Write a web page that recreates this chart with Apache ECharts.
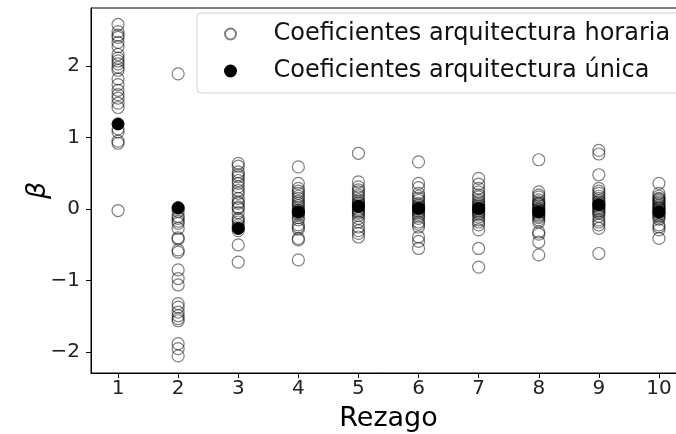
<!DOCTYPE html>
<html><head><meta charset="utf-8">
<script src="https://cdn.jsdelivr.net/npm/echarts@6/dist/echarts.min.js"></script>
<style>html,body{margin:0;padding:0;background:#fff}#c{width:676px;height:434px}</style>
</head><body><div id="c"></div>
<script>
const lags = [1,2,3,4,5,6,7,8,9,10];
const tickY = [-2,-1,0,1,2];
const horaria1 = [2.58,2.48,2.43,2.40,2.33,2.27,2.16,2.11,2.07,2.03,1.98,1.94,1.82,1.74,1.66,1.60,1.55,1.48,1.42,1.12,1.08,0.95,0.92,-0.02];
const horaria2 = [1.89,0.01,-0.10,-0.13,-0.17,-0.20,-0.27,-0.40,-0.42,-0.57,-0.60,-0.85,-0.97,-1.06,-1.32,-1.37,-1.44,-1.49,-1.53,-1.56,-1.88,-1.95,-2.05,-0.03];
const horaria3 = [0.64,0.60,0.52,0.48,0.40,0.36,0.31,0.22,0.15,0.08,0.03,0.01,-0.05,-0.13,-0.18,-0.22,-0.25,-0.30,-0.50,-0.74,0.10,0.45,-0.15,0.26];
const horaria4 = [0.59,0.36,0.29,0.22,0.15,0.08,0.02,-0.01,-0.04,-0.08,-0.12,-0.22,-0.28,-0.41,-0.43,-0.71,0.18,0.05,-0.06,0.25,-0.15,-0.02,0.11,-0.25];
const horaria5 = [0.78,0.38,0.31,0.24,0.17,0.10,0.06,0.03,-0.04,-0.09,-0.18,-0.25,-0.34,-0.39,0.20,0.13,0.00,-0.02,0.08,-0.13,0.27,-0.30,0.04,-0.06];
const horaria6 = [0.66,0.36,0.22,0.15,0.08,0.04,0.01,-0.04,-0.10,-0.18,-0.25,-0.39,-0.45,-0.55,0.18,0.12,0.00,-0.02,0.06,-0.07,-0.13,0.30,0.02,-0.21];
const horaria7 = [0.43,0.29,0.24,0.17,0.10,0.05,0.01,-0.04,-0.11,-0.15,-0.22,-0.29,-0.55,-0.81,0.13,0.20,0.00,-0.02,0.07,-0.08,-0.18,0.03,-0.06,0.35];
const horaria8 = [0.69,0.24,0.17,0.10,0.05,-0.04,-0.08,-0.15,-0.32,-0.46,-0.64,0.20,0.13,0.00,-0.02,0.07,-0.10,-0.18,-0.12,0.02,-0.06,-0.35,0.08,-0.01];
const horaria9 = [0.82,0.77,0.48,0.29,0.22,0.15,0.10,0.06,-0.04,-0.15,-0.22,-0.27,-0.62,0.25,0.18,0.04,0.00,0.08,-0.02,-0.10,0.12,-0.18,0.02,-0.06];
const horaria10 = [0.36,0.22,0.15,0.10,0.06,0.02,-0.04,-0.11,-0.22,-0.29,-0.41,0.18,0.12,0.00,-0.02,0.08,-0.07,-0.14,0.04,-0.25,0.14,-0.09,0.01,-0.05];
const unica = [1.19,0.02,-0.27,-0.04,0.04,0.01,0.01,-0.04,0.06,-0.04];

const horarias = [horaria1,horaria2,horaria3,horaria4,horaria5,horaria6,horaria7,horaria8,horaria9,horaria10];
const horariaData = [];
horarias.forEach((arr,i)=>arr.forEach(v=>horariaData.push([lags[i],v])));
const unicaData = unica.map((v,i)=>[lags[i],v]);

const font = "'DejaVu Sans', sans-serif";
const fmt = v => v < 0 ? '\u2212' + Math.abs(v) : String(v);

const chart = echarts.init(document.getElementById('c'), null, {renderer:'canvas'});
chart.setOption({
  animation:false,
  backgroundColor:'#fff',
  grid:{left:91, top:8, width:595, height:365, outerBoundsMode:'none', containLabel:false,
    show:true, borderColor:'#000', borderWidth:1, backgroundColor:'transparent'},
  xAxis:{type:'value', min:0.55, max:10.45,
    name:'Rezago', nameLocation:'middle', nameGap:32, nameMoveOverlap:false,
    nameTextStyle:{fontFamily:font, fontSize:27, color:'#000'},
    axisLine:{show:true, onZero:false, lineStyle:{color:'#000', width:1}},
    axisTick:{show:true, customValues:lags, length:5, lineStyle:{color:'#000'}},
    axisLabel:{customValues:lags, fontFamily:font, fontSize:20, color:'#222', margin:6, formatter:fmt},
    splitLine:{show:false}},
  yAxis:{type:'value', min:-2.29, max:2.81,
    name:'\u03B2', nameLocation:'middle', nameGap:40, nameRotate:90, nameMoveOverlap:false,
    nameTextStyle:{fontFamily:font, fontSize:27, fontStyle:'italic', color:'#000'},
    axisLine:{show:true, onZero:false, lineStyle:{color:'#000', width:1}},
    axisTick:{show:true, customValues:tickY, length:5, lineStyle:{color:'#000'}},
    axisLabel:{customValues:tickY, fontFamily:font, fontSize:20, color:'#222', margin:11, formatter:fmt},
    splitLine:{show:false}},
  legend:{orient:'vertical', left:197, top:13,
    padding:[7,10,8,27], itemGap:9, itemWidth:40, itemHeight:11,
    borderColor:'#d0d0d0', borderWidth:1, borderRadius:4, backgroundColor:'rgba(255,255,255,0.85)',
    textStyle:{fontFamily:font, fontSize:24, color:'#111', lineHeight:28, padding:[0,0,0,18]},
    data:[{name:'Coeficientes arquitectura horaria', icon:'circle'},{name:'Coeficientes arquitectura única', icon:'circle'}]},
  series:[
    {name:'Coeficientes arquitectura horaria', type:'scatter', symbol:'circle', symbolSize:12, data:horariaData, z:2,
      itemStyle:{color:'rgba(255,255,255,0)', borderColor:'rgba(0,0,0,0.5)', borderWidth:1.2, opacity:1}},
    {name:'Coeficientes arquitectura única', type:'scatter', symbol:'circle', symbolSize:12, data:unicaData, z:3,
      itemStyle:{color:'#000', borderColor:'#000', borderWidth:1, opacity:1}}
  ]
});
</script></body></html>
